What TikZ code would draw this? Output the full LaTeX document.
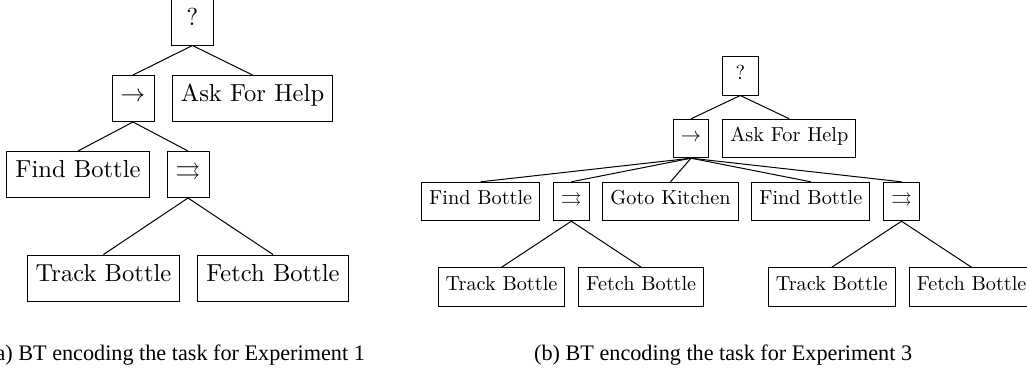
\documentclass[tikz,border=0pt]{standalone}
\usepackage{fix-cm}
\usepackage{amssymb}
\usepackage{fontspec}
\newfontfamily\capfont{Liberation Serif}
\newfontfamily\nodefont{lmroman10-regular}[Extension=.otf]
\tikzset{
  btL/.style={draw, line width=1pt, font=\nodefont\fontsize{24.6}{30}\selectfont,
    inner xsep=8.5pt, inner ysep=0pt, minimum height=46pt,
    text height=0.72em, text depth=0.08em},
  btLs/.style={btL, minimum width=42pt},
  btR/.style={draw, line width=1pt, font=\nodefont\fontsize{20.26}{24}\selectfont,
    inner xsep=7.5pt, inner ysep=0pt, minimum height=38.4pt,
    text height=0.72em, text depth=0.08em},
  btRs/.style={btR, minimum width=35.5pt},
  conn/.style={line width=1pt},
  captext/.style={font=\capfont\fontsize{22.2}{26}\selectfont, inner sep=0pt}
}
\begin{document}
\begin{tikzpicture}[x=1pt,y=-1pt]
\useasboundingbox (0,0) rectangle (1027,373);
% left tree
\node[btLs] (la) at (192.5,22) {?};
\node[btLs] (lb) at (133,98.5) {$\rightarrow$};
\node[btL]  (lc) at (252.5,98.5) {Ask For Help};
\node[btL]  (ld) at (78,174.5) {Find Bottle};
\node[btLs] (le) at (188,174.5) {$\rightrightarrows$};
\node[btL]  (lf) at (103.5,278) {Track Bottle};
\node[btL]  (lg) at (273,278) {Fetch Bottle};
\draw[conn] (la.south) -- (lb.north);
\draw[conn] (la.south) -- (lc.north);
\draw[conn] (lb.south) -- (ld.north);
\draw[conn] (lb.south) -- (le.north);
\draw[conn] (le.south) -- (lf.north);
\draw[conn] (le.south) -- (lg.north);
\node[captext, anchor=base east] (capa) at (365,360) {(a) BT encoding the task for Experiment 1};
% right tree
\node[btRs] (ra) at (740.3,75.8) {?};
\node[btRs] (rb) at (691,138.5) {$\rightarrow$};
\node[btR]  (rc) at (789.3,138.5) {Ask For Help};
\node[btR]  (rd) at (480.7,201.5) {Find Bottle};
\node[btRs] (re) at (571.3,201.5) {$\rightrightarrows$};
\node[btR]  (rf) at (670.5,201.5) {Goto Kitchen};
\node[btR]  (rg) at (810.8,201.5) {Find Bottle};
\node[btRs] (rh) at (901.5,201.5) {$\rightrightarrows$};
\node[btR]  (ri) at (501.5,287) {Track Bottle};
\node[btR]  (rj) at (641.3,287) {Fetch Bottle};
\node[btR]  (rk) at (831.7,287) {Track Bottle};
\node[btR]  (rl) at (971.6,287) {Fetch Bottle};
\draw[conn] (ra.south) -- (rb.north);
\draw[conn] (ra.south) -- (rc.north);
\foreach \c in {rd,re,rf,rg,rh} \draw[conn] (rb.south) -- (\c.north);
\draw[conn] (re.south) -- (ri.north);
\draw[conn] (re.south) -- (rj.north);
\draw[conn] (rh.south) -- (rk.north);
\draw[conn] (rh.south) -- (rl.north);
\node[captext, anchor=base west] (capb) at (534,360) {(b) BT encoding the task for Experiment 3};
\end{tikzpicture}
\end{document}
